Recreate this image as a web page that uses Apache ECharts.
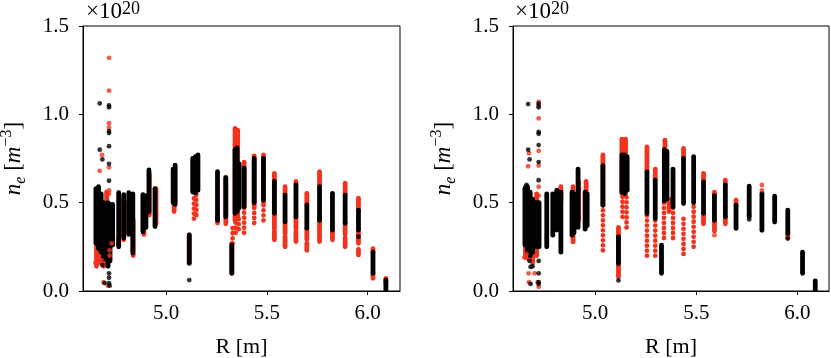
<!DOCTYPE html>
<html>
<head>
<meta charset="utf-8">
<script src="https://cdn.jsdelivr.net/npm/echarts@6/dist/echarts.min.js"></script>
<style>
  html, body { margin: 0; padding: 0; background: #fff; }
  #chart { width: 831px; height: 358px; }
</style>
</head>
<body>
<div id="chart"></div>
<script>
// tick values shared by both panels
var xTicks = [5.0, 5.5, 6.0];
var yTicks = [0.0, 0.5, 1.0, 1.5];

// ---- left panel: [R, low, high] ranges and single [R, ne] points (ne in 1e20 m^-3)
var leftBlackRanges = [
  [4.652, 0.27, 0.58], [4.665, 0.24, 0.59], [4.678, 0.22, 0.55], [4.690, 0.18, 0.50],
  [4.700, 0.20, 0.48], [4.712, 0.14, 0.50], [4.722, 0.17, 0.49], [4.735, 0.26, 0.49],
  [4.765, 0.25, 0.556], [4.790, 0.30, 0.545], [4.815, 0.32, 0.556], [4.835, 0.215, 0.55],
  [4.885, 0.335, 0.545], [4.900, 0.36, 0.54], [4.915, 0.45, 0.685], [4.945, 0.365, 0.58],
  [5.035, 0.50, 0.69], [5.045, 0.49, 0.713], [5.115, 0.157, 0.317],
  [5.132, 0.56, 0.75], [5.145, 0.555, 0.76], [5.158, 0.57, 0.77],
  [5.255, 0.40, 0.675], [5.296, 0.42, 0.64], [5.326, 0.10, 0.26],
  [5.342, 0.44, 0.80], [5.352, 0.45, 0.81], [5.362, 0.47, 0.72],
  [5.387, 0.477, 0.696], [5.437, 0.50, 0.75], [5.483, 0.515, 0.75],
  [5.537, 0.44, 0.62], [5.590, 0.392, 0.543], [5.644, 0.42, 0.60], [5.698, 0.355, 0.487],
  [5.761, 0.40, 0.59], [5.825, 0.345, 0.553], [5.888, 0.383, 0.543], [5.954, 0.345, 0.458],
  [6.026, 0.10, 0.22], [6.090, 0.0, 0.062]
];
var leftRedRanges = [
  [4.655, 0.14, 0.30], [4.668, 0.16, 0.27], [4.690, 0.14, 0.25], [4.705, 0.18, 0.56],
  [4.765, 0.26, 0.30], [4.790, 0.29, 0.52], [4.812, 0.33, 0.50], [4.837, 0.20, 0.40],
  [4.890, 0.32, 0.50], [4.917, 0.43, 0.66], [4.950, 0.38, 0.58], [5.040, 0.45, 0.66],
  [5.115, 0.157, 0.317], [5.255, 0.385, 0.42], [5.296, 0.38, 0.645], [5.326, 0.10, 0.27],
  [5.342, 0.40, 0.92], [5.355, 0.42, 0.91], [5.387, 0.47, 0.73], [5.437, 0.48, 0.765],
  [5.483, 0.50, 0.77],
  [5.537, 0.44, 0.666], [5.537, 0.355, 0.44], [5.537, 0.29, 0.34],
  [5.590, 0.543, 0.59], [5.590, 0.326, 0.392], [5.590, 0.25, 0.307],
  [5.644, 0.60, 0.62], [5.644, 0.355, 0.42], [5.644, 0.28, 0.34],
  [5.698, 0.487, 0.553], [5.698, 0.29, 0.355], [5.698, 0.23, 0.27],
  [5.761, 0.59, 0.675], [5.761, 0.28, 0.40],
  [5.825, 0.29, 0.345],
  [5.888, 0.543, 0.61], [5.888, 0.32, 0.383], [5.888, 0.25, 0.30],
  [5.954, 0.458, 0.525], [5.954, 0.27, 0.345], [5.954, 0.204, 0.235],
  [6.026, 0.22, 0.24], [6.026, 0.072, 0.10], [6.090, 0.04, 0.072]
];
var leftRedDotted = [
  [5.138, 0.41, 0.55], [5.150, 0.43, 0.55], [5.330, 0.27, 0.38],
  [5.345, 0.33, 0.42], [5.360, 0.35, 0.42], [5.387, 0.33, 0.47],
  [5.437, 0.385, 0.48], [5.483, 0.40, 0.50]
];
var leftRedPoints = [
  [4.717, 1.32], [4.717, 1.134], [4.717, 0.95], [4.717, 0.926], [4.682, 0.77],
  [4.671, 0.68], [4.717, 0.70], [4.717, 0.57], [4.717, 0.55], [4.690, 0.05],
  [4.712, 0.03], [4.650, 0.16], [4.720, 0.20], [4.720, 0.23], [4.730, 0.27],
  [4.680, 0.175]
];
var leftBlackPoints = [
  [4.671, 1.062], [4.717, 1.05], [4.717, 1.04], [4.717, 0.905], [4.717, 0.894],
  [4.717, 0.82], [4.671, 0.80], [4.684, 0.745], [4.717, 0.72], [4.717, 0.624],
  [4.717, 0.10], [4.717, 0.075], [4.717, 0.045], [4.720, 0.03], [4.695, 0.045],
  [4.684, 0.147], [5.115, 0.062], [5.954, 0.307], [5.761, 0.41]
];

// ---- right panel
var rightBlackRanges = [
  [4.652, 0.26, 0.58], [4.665, 0.22, 0.59], [4.678, 0.20, 0.56], [4.690, 0.22, 0.52],
  [4.700, 0.25, 0.50], [4.712, 0.25, 0.50], [4.722, 0.25, 0.50],
  [4.760, 0.25, 0.55], [4.790, 0.316, 0.55], [4.810, 0.345, 0.57], [4.830, 0.22, 0.56],
  [4.885, 0.316, 0.56], [4.895, 0.33, 0.55], [4.915, 0.36, 0.69], [4.950, 0.35, 0.56],
  [4.960, 0.37, 0.55],
  [5.038, 0.485, 0.71], [5.115, 0.155, 0.306],
  [5.132, 0.56, 0.77], [5.145, 0.55, 0.77], [5.158, 0.57, 0.76],
  [5.256, 0.438, 0.674], [5.297, 0.41, 0.627], [5.328, 0.10, 0.26],
  [5.342, 0.51, 0.80], [5.355, 0.52, 0.79], [5.385, 0.476, 0.69],
  [5.437, 0.495, 0.75], [5.487, 0.50, 0.76],
  [5.536, 0.44, 0.617], [5.590, 0.40, 0.54], [5.644, 0.42, 0.60], [5.697, 0.354, 0.486],
  [5.762, 0.42, 0.593], [5.825, 0.344, 0.552], [5.888, 0.39, 0.537], [5.953, 0.325, 0.457],
  [6.026, 0.10, 0.22], [6.089, 0.0, 0.057]
];
var rightRedRanges = [
  [4.655, 0.19, 0.30], [4.670, 0.18, 0.28], [4.690, 0.16, 0.26], [4.710, 0.20, 0.55],
  [4.810, 0.35, 0.57], [4.830, 0.50, 0.59], [4.890, 0.278, 0.59], [4.918, 0.40, 0.62],
  [4.955, 0.40, 0.62], [5.038, 0.485, 0.77], [5.115, 0.08, 0.36],
  [5.132, 0.55, 0.86], [5.150, 0.55, 0.86], [5.256, 0.674, 0.815], [5.297, 0.627, 0.69],
  [5.345, 0.51, 0.854], [5.365, 0.45, 0.52], [5.437, 0.75, 0.807],
  [5.536, 0.617, 0.665], [5.536, 0.38, 0.44], [5.590, 0.54, 0.56], [5.590, 0.34, 0.40],
  [5.644, 0.60, 0.627], [5.644, 0.38, 0.42], [5.697, 0.486, 0.514],
  [5.762, 0.42, 0.43], [5.953, 0.30, 0.33]
];
var rightRedDotted = [
  [5.038, 0.23, 0.485], [5.135, 0.42, 0.55], [5.155, 0.36, 0.55],
  [5.256, 0.20, 0.438], [5.297, 0.20, 0.41], [5.340, 0.30, 0.51],
  [5.385, 0.30, 0.476], [5.437, 0.21, 0.43], [5.487, 0.25, 0.50]
];
var rightRedPoints = [
  [4.720, 1.07], [4.720, 1.05], [4.720, 0.977], [4.672, 0.78], [4.720, 0.793],
  [4.668, 0.706], [4.720, 0.71], [4.720, 0.59], [4.720, 0.54], [4.650, 0.19],
  [4.660, 0.21], [4.670, 0.10], [4.700, 0.10], [4.672, 0.05], [4.720, 0.023],
  [4.715, 0.05], [5.590, 0.316], [5.825, 0.60], [5.825, 0.57]
];
var rightBlackPoints = [
  [4.668, 1.058], [4.720, 1.06], [4.720, 1.04], [4.720, 0.90], [4.720, 0.89],
  [4.720, 0.826], [4.668, 0.80], [4.675, 0.745], [4.720, 0.73], [4.720, 0.627],
  [4.660, 0.60], [4.655, 0.59], [4.675, 0.17], [4.680, 0.136], [4.690, 0.14],
  [4.720, 0.17], [4.720, 0.10], [4.680, 0.04], [4.720, 0.04], [4.720, 0.05],
  [5.115, 0.06], [5.762, 0.405], [5.953, 0.297]
];

var RED = "#f0321f";
var BLACK = "#000000";
var FONT = "Liberation Serif";
var DOT = 4.8;

function rangeSeries(data, idx, color, dotted) {
  return {
    type: "custom",
    xAxisIndex: idx,
    yAxisIndex: idx,
    clip: true,
    silent: true,
    encode: { x: 0, y: [1, 2] },
    data: data,
    renderItem: function (params, api) {
      var p0 = api.coord([api.value(0), api.value(1)]);
      var p1 = api.coord([api.value(0), api.value(2)]);
      return {
        type: "line",
        shape: { x1: p0[0], y1: p0[1], x2: p1[0], y2: p1[1] },
        style: {
          stroke: color,
          lineWidth: DOT,
          lineCap: "round",
          lineDash: dotted ? [0.01, 5] : null,
        },
      };
    },
  };
}

function pointSeries(data, idx, color) {
  return {
    type: "scatter",
    xAxisIndex: idx,
    yAxisIndex: idx,
    symbolSize: DOT,
    silent: true,
    clip: true,
    itemStyle: { color: color },
    data: data,
  };
}

function makeX(idx, min, max) {
  return {
    gridIndex: idx,
    type: "value",
    min: min,
    max: max,
    name: "R [m]",
    nameLocation: "middle",
    nameGap: 45,
    nameTextStyle: { fontFamily: FONT, fontSize: 22, color: "#000" },
    axisLine: { lineStyle: { color: "#000", width: 1 } },
    axisTick: { customValues: xTicks, length: 4, lineStyle: { color: "#000" } },
    axisLabel: {
      customValues: xTicks,
      margin: 12,
      fontFamily: FONT,
      fontSize: 21,
      color: "#000",
      formatter: function (v) { return v.toFixed(1); },
    },
    splitLine: { show: false },
  };
}

function makeY(idx) {
  return {
    gridIndex: idx,
    type: "value",
    min: yTicks[0],
    max: yTicks[yTicks.length - 1],
    interval: 0.5,
    name: "{i|n}{sub|e} [{i|m}{sup|\u22123}]",
    nameLocation: "middle",
    nameGap: 54,
    nameRotate: 90,
    nameTextStyle: {
      fontFamily: FONT,
      fontSize: 23,
      color: "#000",
      rich: {
        i: { fontFamily: FONT, fontSize: 23, fontStyle: "italic", lineHeight: 30, color: "#000" },
        sub: { fontFamily: FONT, fontSize: 16, fontStyle: "italic", verticalAlign: "bottom", color: "#000" },
        sup: { fontFamily: FONT, fontSize: 16, verticalAlign: "top", color: "#000" },
      },
    },
    axisLine: { show: true, lineStyle: { color: "#000", width: 1 } },
    axisTick: { show: true, length: 4, lineStyle: { color: "#000" } },
    axisLabel: {
      margin: 14,
      fontFamily: FONT,
      fontSize: 21,
      color: "#000",
      formatter: function (v) { return v.toFixed(1); },
    },
    splitLine: { show: false },
  };
}

function scaleTitle(left) {
  return {
    text: "\u00d710{sup|20}",
    left: left,
    top: 0,
    padding: 0,
    textStyle: {
      fontFamily: FONT,
      fontSize: 23,
      fontWeight: "normal",
      color: "#000",
      rich: { sup: { fontFamily: FONT, fontSize: 18, verticalAlign: "top", color: "#000" } },
    },
  };
}

function makeGrid(left, width) {
  return {
    left: left, top: 26, width: width, height: 265,
    outerBoundsMode: "none",
    containLabel: false,
    show: true, borderColor: "#000", borderWidth: 1, backgroundColor: "transparent",
  };
}

var chart = echarts.init(document.getElementById("chart"), null, { renderer: "canvas" });
chart.setOption({
  animation: false,
  backgroundColor: "#fff",
  title: [scaleTitle(86), scaleTitle(515)],
  grid: [makeGrid(83, 317), makeGrid(513, 316)],
  xAxis: [makeX(0, 4.588, 6.16), makeX(1, 4.593, 6.157)],
  yAxis: [makeY(0), makeY(1)],
  series: [
    rangeSeries(leftRedRanges, 0, RED, false),
    rangeSeries(leftRedDotted, 0, RED, true),
    pointSeries(leftRedPoints, 0, RED),
    rangeSeries(leftBlackRanges, 0, BLACK, false),
    pointSeries(leftBlackPoints, 0, BLACK),
    rangeSeries(rightRedRanges, 1, RED, false),
    rangeSeries(rightRedDotted, 1, RED, true),
    pointSeries(rightRedPoints, 1, RED),
    rangeSeries(rightBlackRanges, 1, BLACK, false),
    pointSeries(rightBlackPoints, 1, BLACK),
  ],
});
</script>
</body>
</html>
